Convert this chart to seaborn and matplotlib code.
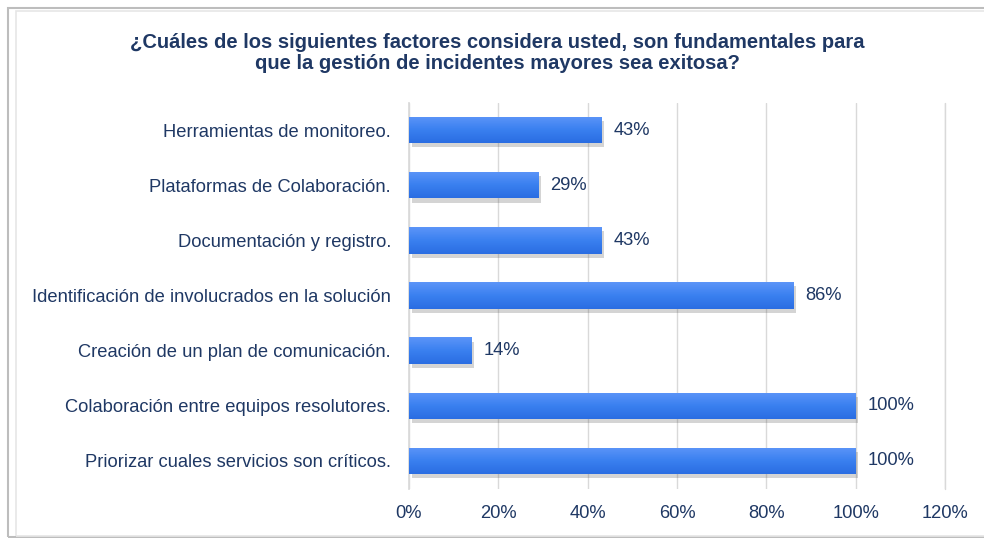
import matplotlib
matplotlib.use("Agg")
import matplotlib.pyplot as plt
import matplotlib.patheffects as pe
from matplotlib.patches import Rectangle
from matplotlib.colors import LinearSegmentedColormap
import numpy as np
import seaborn as sns
import pandas as pd

categories = [
    "Herramientas de monitoreo.",
    "Plataformas de Colaboración.",
    "Documentación y registro.",
    "Identificación de involucrados en la solución",
    "Creación de un plan de comunicación.",
    "Colaboración entre equipos resolutores.",
    "Priorizar cuales servicios son críticos.",
]
values = [43, 29, 43, 86, 14, 100, 100]
tick_values = [0, 20, 40, 60, 80, 100, 120]
tick_labels = ["0%", "20%", "40%", "60%", "80%", "100%", "120%"]
title_lines = [
    "¿Cuáles de los siguientes factores considera usted, son fundamentales para",
    "que la gestión de incidentes mayores sea exitosa?",
]

df = pd.DataFrame({"factor": categories, "pct": values})

sns.set_theme(style="white")
plt.rcParams["font.family"] = ["Liberation Sans", "DejaVu Sans"]

navy = "#1F3864"
bar_color = "#3A7FEB"
fs = 13.2

fig = plt.figure(figsize=(9.84, 5.38), dpi=100)
ax = fig.add_axes([409 / 984, 1 - 488.5 / 538, (945 - 409) / 984, (488.5 - 102.5) / 538])

sns.barplot(data=df, x="pct", y="factor", orient="h", color=bar_color,
            saturation=1, width=0.48, ax=ax, zorder=3)

xlim = (0, 120)
ax.set_xlim(*xlim)
ylim = ax.get_ylim()

grad_cmap = LinearSegmentedColormap.from_list("g", ["#5C95F8", "#3A80F0", "#2A6DE2"])
grad = np.linspace(0, 1, 64).reshape(-1, 1)
for p in list(ax.patches):
    p.set_edgecolor("none")
    p.set_facecolor("#2F72E4")
    p.set_path_effects([pe.SimplePatchShadow(offset=(2, -3), shadow_rgbFace="#555555", alpha=0.25), pe.Normal()])
    x0, y0, w, h = p.get_x(), p.get_y(), p.get_width(), p.get_height()
    im = ax.imshow(grad, cmap=grad_cmap, aspect="auto", origin="upper",
                   extent=(x0, x0 + w, y0 + h, y0), zorder=4, interpolation="bilinear")
    im.set_clip_path(p)

ax.set_xlim(*xlim)
ax.set_ylim(*ylim)

for i, v in enumerate(values):
    ax.text(v + 2.7, i, f"{v}%", va="center", ha="left", color=navy, fontsize=fs, zorder=5)

ax.set_xticks(tick_values)
ax.set_xticklabels(tick_labels, color=navy, fontsize=fs)
ax.tick_params(axis="y", labelsize=fs, labelcolor=navy, length=0, pad=13)
ax.tick_params(axis="x", length=0, pad=12)
ax.set_xlabel("")
ax.set_ylabel("")
ax.grid(axis="x", color="#D9D9D9", linewidth=1, zorder=0)
ax.set_axisbelow(True)
for s in ["top", "right", "bottom"]:
    ax.spines[s].set_visible(False)
ax.spines["left"].set_color("#D9D9D9")
ax.axvline(120, color="#D9D9D9", linewidth=1, zorder=0, clip_on=False)

for j, line in enumerate(title_lines):
    fig.text(497 / 984, 1 - (43 + 21 * j) / 538, line, ha="center", va="center",
             fontsize=14.5, fontweight="bold", color=navy)

# chart frame
fig.patches.append(Rectangle((8 / 984, 0.002), 1.2, 1 - 8 / 538 - 0.002, transform=fig.transFigure,
                             fill=False, edgecolor="#BDBDBD", linewidth=1.5, zorder=0))
fig.patches.append(Rectangle((16 / 984, 0.004), 1.2, 1 - 11 / 538 - 0.004, transform=fig.transFigure,
                             fill=False, edgecolor="#E6E6E6", linewidth=1.2, zorder=0))

fig.savefig("out.png", dpi=100)
